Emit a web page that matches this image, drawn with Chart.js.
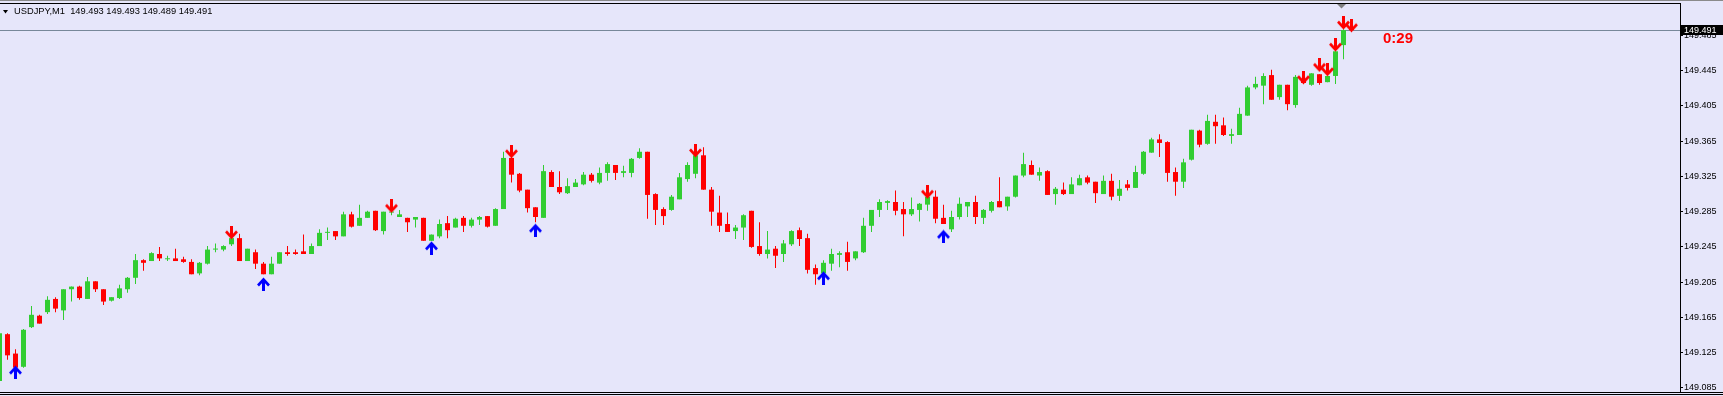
<!DOCTYPE html>
<html>
<head>
<meta charset="utf-8">
<script src="https://cdn.jsdelivr.net/npm/chart.js@4/dist/chart.umd.min.js"></script>
<style>
  html, body { margin: 0; padding: 0; background: #E6E6FA; }
  canvas { display: block; }
</style>
</head>
<body>
<canvas id="chart" width="1723" height="396"></canvas>
<script>
// USDJPY M1 candles, one per minute, oldest first
const symbol = 'USDJPY,M1';
const opens = [
  149.093,149.146,149.124,149.109,149.154,149.167,149.171,149.186,149.173,149.197,
  149.200,149.186,149.206,149.197,149.184,149.187,149.197,149.210,149.230,149.229,
  149.237,149.231,149.232,149.231,149.228,149.215,149.226,149.242,149.242,149.248,
  149.255,149.229,149.239,149.226,149.214,149.226,149.239,149.239,149.240,149.237,
  149.246,149.261,149.263,149.257,149.282,149.269,149.278,149.286,149.263,149.284,
  149.279,149.278,149.276,149.278,149.252,149.257,149.272,149.267,149.278,149.269,
  149.276,149.280,149.269,149.288,149.346,149.328,149.310,149.290,149.278,149.330,
  149.313,149.306,149.313,149.316,149.327,149.318,149.329,149.338,149.329,149.329,
  149.346,149.353,149.305,149.288,149.287,149.299,149.322,149.328,149.349,149.310,
  149.284,149.271,149.263,149.267,149.286,149.246,149.237,149.243,149.237,149.248,
  149.264,149.255,149.221,149.215,149.226,149.236,149.239,149.232,149.239,149.269,
  149.287,149.295,149.296,149.288,149.282,149.287,149.293,149.302,149.278,149.265,
  149.279,149.291,149.296,149.278,149.286,149.297,149.291,149.302,149.326,149.338,
  149.326,149.331,149.305,149.310,149.305,149.315,149.324,149.319,149.305,149.320,
  149.303,149.316,149.312,149.328,149.352,149.367,149.364,149.330,149.319,149.344,
  149.377,149.362,149.387,149.383,149.371,149.372,149.394,149.426,149.428,149.440,
  149.415,149.429,149.406,149.436,149.429,149.441,149.432,149.439,149.474,149.493
];
const highs = [
  149.150,149.147,149.129,149.152,149.178,149.168,149.189,149.188,149.197,149.200,
  149.201,149.211,149.206,149.197,149.188,149.202,149.211,149.237,149.231,149.239,
  149.245,149.235,149.243,149.234,149.231,149.228,149.246,149.249,149.247,149.257,
  149.260,149.243,149.242,149.228,149.234,149.239,149.246,149.242,149.259,149.249,
  149.265,149.267,149.263,149.285,149.285,149.293,149.286,149.286,149.285,149.286,
  149.287,149.278,149.279,149.278,149.259,149.276,149.280,149.278,149.280,149.278,
  149.280,149.280,149.289,149.353,149.352,149.329,149.310,149.290,149.338,149.332,
  149.331,149.323,149.322,149.330,149.329,149.335,149.341,149.338,149.337,149.346,
  149.357,149.353,149.306,149.290,149.304,149.329,149.341,149.349,149.358,149.313,
  149.303,149.284,149.270,149.282,149.286,149.273,149.263,149.246,149.253,149.264,
  149.267,149.260,149.225,149.230,149.243,149.240,149.251,149.240,149.278,149.287,
  149.299,149.298,149.309,149.296,149.301,149.295,149.302,149.309,149.293,149.286,
  149.301,149.296,149.303,149.288,149.297,149.324,149.302,149.326,149.352,149.343,
  149.335,149.332,149.313,149.318,149.324,149.327,149.326,149.319,149.326,149.328,
  149.321,149.321,149.337,149.354,149.369,149.373,149.365,149.335,149.345,149.378,
  149.378,149.395,149.395,149.392,149.379,149.403,149.428,149.438,149.442,149.446,
  149.429,149.429,149.440,149.437,149.442,149.441,149.439,149.467,149.492,149.493
];
const lows = [
  149.091,149.117,149.105,149.108,149.153,149.158,149.169,149.171,149.162,149.183,
  149.185,149.186,149.194,149.179,149.183,149.186,149.193,149.203,149.218,149.229,
  149.229,149.229,149.229,149.227,149.214,149.213,149.225,149.239,149.240,149.246,
  149.229,149.229,149.220,149.214,149.214,149.226,149.235,149.236,149.237,149.237,
  149.246,149.253,149.253,149.257,149.267,149.269,149.278,149.263,149.259,149.281,
  149.279,149.262,149.267,149.252,149.252,149.255,149.255,149.267,149.262,149.267,
  149.270,149.267,149.269,149.288,149.318,149.307,149.284,149.273,149.278,149.313,
  149.305,149.305,149.313,149.315,149.318,149.316,149.320,149.321,149.324,149.324,
  149.345,149.277,149.270,149.270,149.286,149.299,149.319,149.323,149.310,149.269,
  149.262,149.262,149.254,149.253,149.244,149.235,149.232,149.221,149.228,149.246,
  149.246,149.215,149.202,149.213,149.218,149.222,149.218,149.230,149.238,149.262,
  149.279,149.287,149.281,149.257,149.280,149.274,149.286,149.272,149.271,149.262,
  149.276,149.279,149.271,149.271,149.284,149.290,149.286,149.301,149.324,149.327,
  149.320,149.304,149.293,149.304,149.305,149.315,149.316,149.295,149.305,149.298,
  149.297,149.309,149.312,149.327,149.352,149.347,149.319,149.303,149.312,149.343,
  149.358,149.361,149.362,149.371,149.362,149.372,149.394,149.424,149.407,149.412,
  149.412,149.400,149.403,149.430,149.428,149.429,149.432,149.430,149.458,149.489
];
const closes = [
  149.147,149.122,149.108,149.151,149.168,149.158,149.185,149.175,149.197,149.200,
  149.187,149.206,149.197,149.183,149.188,149.198,149.210,149.230,149.227,149.238,
  149.232,149.232,149.229,149.228,149.214,149.227,149.242,149.243,149.246,149.255,
  149.229,149.243,149.226,149.214,149.226,149.239,149.237,149.237,149.237,149.246,
  149.261,149.262,149.257,149.282,149.268,149.278,149.285,149.264,149.285,149.285,
  149.282,149.273,149.279,149.252,149.259,149.271,149.264,149.277,149.269,149.276,
  149.279,149.268,149.288,149.346,149.327,149.309,149.289,149.279,149.331,149.313,
  149.307,149.314,149.318,149.327,149.320,149.329,149.339,149.329,149.331,149.345,
  149.353,149.304,149.287,149.280,149.302,149.324,149.338,149.349,149.310,149.285,
  149.269,149.262,149.267,149.281,149.245,149.237,149.242,149.235,149.249,149.263,
  149.254,149.219,149.214,149.227,149.237,149.238,149.228,149.240,149.269,149.287,
  149.296,149.297,149.286,149.282,149.288,149.294,149.302,149.277,149.271,149.279,
  149.294,149.296,149.279,149.287,149.296,149.290,149.302,149.326,149.339,149.327,
  149.330,149.304,149.311,149.305,149.316,149.323,149.318,149.306,149.320,149.302,
  149.311,149.312,149.330,149.353,149.367,149.363,149.329,149.319,149.341,149.378,
  149.361,149.388,149.382,149.372,149.373,149.396,149.426,149.430,149.439,149.412,
  149.429,149.407,149.438,149.431,149.442,149.431,149.439,149.467,149.491,149.491
];

// signal arrows: bar index and price where the glyph sits
const sellIdx = [29, 49, 64, 87, 116, 163, 165, 166, 167, 168, 169];
const sellPrice = [149.261, 149.291, 149.353, 149.354, 149.307, 149.437, 149.451, 149.446, 149.474, 149.499, 149.496];
const buyIdx = [2, 33, 54, 67, 103, 118];
const buyPrice = [149.103, 149.203, 149.244, 149.264, 149.210, 149.257];

const yTicks = [149.085, 149.125, 149.165, 149.205, 149.245, 149.285, 149.325, 149.365, 149.405, 149.445, 149.485];
const timerText = '0:29';

const BG = '#E6E6FA';
const BULL = '#32CD32';
const BEAR = '#FF0000';
const FONT = "'Liberation Sans', Arial, sans-serif";

function makeArrow(color, down) {
  const c = document.createElement('canvas');
  c.width = 13; c.height = 14;
  const g = c.getContext('2d');
  if (!down) { g.translate(0, 14); g.scale(1, -1); }
  g.fillStyle = color;
  g.strokeStyle = color;
  g.fillRect(5, 0, 3, 12);
  g.lineWidth = 2.6;
  g.lineJoin = 'miter';
  g.beginPath();
  g.moveTo(1, 5.5);
  g.lineTo(6.5, 11.5);
  g.lineTo(12, 5.5);
  g.stroke();
  return c;
}

const colors = opens.map((o, i) => closes[i] >= o ? BULL : BEAR);

const overlay = {
  id: 'overlay',
  beforeDraw(chart) {
    const ctx = chart.ctx;
    ctx.save();
    ctx.fillStyle = BG;
    ctx.fillRect(0, 0, chart.width, chart.height);
    ctx.restore();
  },
  beforeDatasetsDraw(chart) {
    const ctx = chart.ctx, a = chart.chartArea;
    const y = Math.round(chart.scales.y.getPixelForValue(closes[closes.length - 1])) + 0.5;
    ctx.save();
    ctx.strokeStyle = '#778899';
    ctx.lineWidth = 1;
    ctx.beginPath();
    ctx.moveTo(a.left, y);
    ctx.lineTo(a.right, y);
    ctx.stroke();
    ctx.restore();
  },
  afterDraw(chart) {
    const ctx = chart.ctx, a = chart.chartArea;
    ctx.save();
    // frame
    ctx.fillStyle = '#8a8a8a';
    ctx.fillRect(0, 0, chart.width, 1);
    ctx.fillStyle = '#000';
    ctx.fillRect(0, 3, a.right + 1, 1);
    ctx.fillRect(a.right, 3, 1, a.bottom - 3);
    ctx.fillRect(0, 392, chart.width, 1);
    ctx.fillRect(0, 394, chart.width, 1);

    // header
    ctx.beginPath();
    ctx.moveTo(3, 10); ctx.lineTo(8, 10); ctx.lineTo(5.5, 13.5); ctx.closePath();
    ctx.fill();
    ctx.font = '9.3px ' + FONT;
    ctx.textBaseline = 'middle';
    ctx.fillText(symbol + '  ' + [opens, highs, lows, closes].map(s => s[s.length - 1].toFixed(3)).join(' '), 14, 11.5);

    // shift marker
    ctx.fillStyle = '#808080';
    ctx.beginPath();
    ctx.moveTo(1337, 4); ctx.lineTo(1346, 4); ctx.lineTo(1341.5, 8.5); ctx.closePath();
    ctx.fill();

    // bid label on the price axis
    const last = closes[closes.length - 1];
    const py = Math.round(chart.scales.y.getPixelForValue(last));
    ctx.fillStyle = '#000';
    ctx.fillRect(a.right + 1, py - 5, chart.width - a.right - 1, 10);
    ctx.fillStyle = '#fff';
    ctx.font = '9px ' + FONT;
    ctx.fillText(last.toFixed(3), a.right + 4, py + 0.5);

    // bar timer
    ctx.fillStyle = BEAR;
    ctx.font = 'bold 15px ' + FONT;
    ctx.fillText(timerText, 1383, 39);
    ctx.restore();
  }
};

new Chart(document.getElementById('chart'), {
  type: 'bar',
  data: {
    datasets: [
      {
        label: 'wick',
        data: opens.map((o, i) => ({ x: i, y: [lows[i], highs[i]] })),
        backgroundColor: colors,
        grouped: false,
        maxBarThickness: 1,
        minBarLength: 1,
        order: 3
      },
      {
        label: 'body',
        data: opens.map((o, i) => ({ x: i, y: [o, closes[i]] })),
        backgroundColor: colors,
        grouped: false,
        maxBarThickness: 5,
        minBarLength: 1,
        order: 2
      },
      {
        type: 'scatter',
        label: 'sell',
        data: sellIdx.map((x, k) => ({ x: x, y: sellPrice[k] })),
        pointStyle: makeArrow(BEAR, true),
        pointRadius: 6,
        order: 1
      },
      {
        type: 'scatter',
        label: 'buy',
        data: buyIdx.map((x, k) => ({ x: x, y: buyPrice[k] })),
        pointStyle: makeArrow('#0000FF', false),
        pointRadius: 6,
        order: 1
      }
    ]
  },
  options: {
    responsive: false,
    devicePixelRatio: 1,
    animation: false,
    layout: { autoPadding: false, padding: { top: 3, bottom: 4, left: 0, right: 0 } },
    plugins: { legend: { display: false }, tooltip: { enabled: false } },
    scales: {
      x: {
        type: 'linear',
        display: false,
        offset: false,
        min: 0.0625,
        max: 210.0625
      },
      y: {
        position: 'right',
        min: 149.0804,
        max: 149.5218,
        afterBuildTicks: s => { s.ticks = yTicks.map(v => ({ value: v })); },
        afterFit: s => {
          s.width = 43;
          s.paddingTop = 0;
          s.paddingBottom = 0;
        },
        grid: { drawOnChartArea: false, drawTicks: true, tickLength: 3, color: '#000' },
        border: { display: false },
        ticks: {
          padding: 1,
          color: '#000',
          font: { family: FONT, size: 9 },
          callback: v => v.toFixed(3)
        }
      }
    }
  },
  plugins: [overlay]
});
</script>
</body>
</html>
